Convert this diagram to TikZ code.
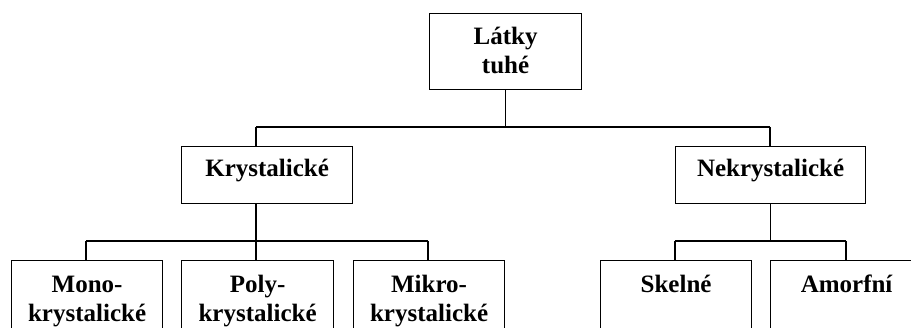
\documentclass[tikz,border=0pt]{standalone}
\usepackage{fontspec}
\setmainfont{Liberation Serif}
\usetikzlibrary{calc}
\begin{document}
\begin{tikzpicture}[x=1pt,y=-1pt,
  box/.style={draw, line width=1.2pt, rectangle, anchor=north west, inner sep=0pt},
  lbl/.style={font=\fontsize{25}{29}\selectfont\bfseries, anchor=base, inner sep=0pt},
  conn/.style={line width=1.2pt}]
\useasboundingbox (0,0) rectangle (911,328);
\clip (0,0) rectangle (911,328);
% boxes
\node[box, minimum width=152pt, minimum height=76pt] (top) at (429,13) {};
\node[box, minimum width=171pt, minimum height=57pt] (kry) at (181,146) {};
\node[box, minimum width=190pt, minimum height=57pt] (nek) at (675,146) {};
\node[box, minimum width=151pt, minimum height=90pt] (mono) at (11,260) {};
\node[box, minimum width=152pt, minimum height=90pt] (poly) at (181,260) {};
\node[box, minimum width=151pt, minimum height=90pt] (mikro) at (353,260) {};
\node[box, minimum width=151pt, minimum height=90pt] (skel) at (600,260) {};
\node[box, minimum width=152pt, minimum height=90pt] (amor) at (770,260) {};
% texts
\node[lbl] (t1) at ($(top.north)+(0,32)$) {Látky};
\node[lbl] (t2) at ($(top.north)+(0,61)$) {tuhé};
\node[lbl] (t3) at ($(kry.north)+(0,31)$) {Krystalické};
\node[lbl] (t4) at ($(nek.north)+(0,31)$) {Nekrystalické};
\node[lbl] (t5) at ($(mono.north)+(0,33)$) {Mono-};
\node[lbl] (t6) at ($(mono.north)+(0,62)$) {krystalické};
\node[lbl] (t7) at ($(poly.north)+(0,33)$) {Poly-};
\node[lbl] (t8) at ($(poly.north)+(0,62)$) {krystalické};
\node[lbl] (t9) at ($(mikro.north)+(0,33)$) {Mikro-};
\node[lbl] (t10) at ($(mikro.north)+(0,62)$) {krystalické};
\node[lbl] (t11) at ($(skel.north)+(0,33)$) {Skelné};
\node[lbl] (t12) at ($(amor.north)+(0,33)$) {Amorfní};
% junction coordinates
\coordinate (b1) at (505,127);
\coordinate (kd) at (256,127);
\coordinate (nd) at (770,127);
\coordinate (b2) at (256,241);
\coordinate (md) at (86,241);
\coordinate (pd) at (256,241);
\coordinate (mkd) at (428,241);
\coordinate (b3) at (770,241);
\coordinate (sd) at (675,241);
\coordinate (ad) at (846,241);
% connectors
\draw[conn] (top.south) -- (top.south |- b1);
\draw[conn] (kd) -- (nd);
\draw[conn] (kd) -- (kd |- kry.north);
\draw[conn] (nd) -- (nd |- nek.north);
\draw[conn] (kd |- kry.south) -- (b2);
\draw[conn] (md) -- (mkd);
\draw[conn] (md) -- (md |- mono.north);
\draw[conn] (pd) -- (pd |- poly.north);
\draw[conn] (mkd) -- (mkd |- mikro.north);
\draw[conn] (nek.south) -- (nek.south |- b3);
\draw[conn] (sd) -- (ad);
\draw[conn] (sd) -- (sd |- skel.north);
\draw[conn] (ad) -- (ad |- amor.north);
\end{tikzpicture}
\end{document}
